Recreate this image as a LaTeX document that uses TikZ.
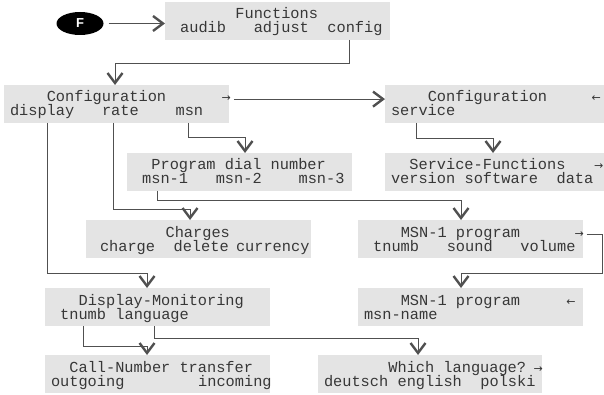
\documentclass[tikz,border=0pt]{standalone}
\usepackage{fontspec}
\usetikzlibrary{arrows.meta,shapes.geometric}
\newfontfamily\lcd{Liberation Mono}
\newfontfamily\symf{DejaVu Sans}
\setsansfont{Liberation Sans}
\definecolor{boxgray}{RGB}{228,228,228}
\definecolor{ink}{RGB}{55,55,55}
\definecolor{wirec}{RGB}{80,80,80}
\begin{document}
\begin{tikzpicture}[x=1pt,y=-1pt,
  lcdbox/.style={fill=boxgray, draw=none, anchor=north west, minimum width=225pt, minimum height=38pt, inner sep=0pt, outer sep=0pt},
  w/.style={anchor=base west, inner sep=0pt, outer sep=0pt, text=ink, font=\lcd\fontsize{15.3}{17}\selectfont},
  sym/.style={anchor=base west, inner sep=0pt, outer sep=0pt, text=ink, font=\symf\fontsize{11}{12}\selectfont},
  wire/.style={draw=wirec, line width=0.9pt},
  arr/.style={wire, -{Straight Barb[length=10pt,width=15pt,line width=2.4pt]}},
]
\useasboundingbox (0,0) rectangle (604,395);

% boxes
\node[lcdbox] (fb) at (165,2) {};
\node[lcdbox] (cfg) at (4,85) {};
\node[lcdbox, minimum width=219pt] (srv) at (385,85) {};
\node[lcdbox, minimum width=219pt] (sf) at (385,153) {};
\node[lcdbox] (pd) at (127,153) {};
\node[lcdbox] (ch) at (86,220) {};
\node[lcdbox] (mp1) at (358,220) {};
\node[lcdbox] (dm) at (45,288) {};
\node[lcdbox] (mp2) at (358,288) {};
\node[lcdbox] (cn) at (45,355) {};
\node[lcdbox, minimum width=224pt] (wl) at (318,355) {};

% F key
\node[ellipse, fill=black, minimum width=47pt, minimum height=23pt, inner sep=0pt, text=white, font=\sffamily\bfseries\fontsize{13}{13}\selectfont] (F) at (80,23.5) {F};

% Functions
\node[w] (fbt) at (235.4,19) {Functions};
\node[w] (audib) at (180.2,33) {audib};
\node[w] (adjust) at (253.8,33) {adjust};
\node[w] (config) at (327.4,33) {config};

% Configuration
\node[w] (cfgt) at (46.8,102) {Configuration};
\node[sym] (cfgarr) at (221.6,102) {→};
\node[w] (display) at (10,116) {display};
\node[w] (rate) at (102,116) {rate};
\node[w] (msn) at (175.6,116) {msn};

% Configuration (service)
\node[w] (srvt) at (427.8,102) {Configuration};
\node[sym] (srvarr) at (591.5,102) {←};
\node[w] (service) at (391,116) {service};

% Service-Functions
\node[w] (sft) at (409.4,170) {Service-Functions};
\node[sym] (sfarr) at (594,170) {→};
\node[w] (version) at (391,184) {version};
\node[w] (software) at (464.6,184) {software};
\node[w] (data) at (556.6,184) {data};

% Program dial number
\node[w] (pdt) at (151.4,170) {Program dial number};
\node[w] (msnone) at (142.2,184) {msn-1};
\node[w] (msntwo) at (215.8,184) {msn-2};
\node[w] (msnthree) at (298.6,184) {msn-3};

% Charges
\node[w] (cht) at (165.6,237) {Charges};
\node[w] (charge) at (100,251) {charge};
\node[w] (delete) at (173.6,251) {delete};
\node[w] (currency) at (236,251) {currency};

% MSN-1 program
\node[w] (mpt) at (400.8,237) {MSN-1 program};
\node[sym] (mparr) at (574.5,237) {→};
\node[w] (tnumbm) at (373.2,251) {tnumb};
\node[w] (sound) at (446.8,251) {sound};
\node[w] (volume) at (520.4,251) {volume};

% Display-Monitoring
\node[w] (dmt) at (78.6,305) {Display-Monitoring};
\node[w] (dmtnumb) at (60.2,319) {tnumb};
\node[w] (language) at (115.4,319) {language};

% MSN-1 program (name)
\node[w] (mpt2) at (400.8,305) {MSN-1 program};
\node[sym] (mparr2) at (566.4,305) {←};
\node[w] (msnname) at (364,319) {msn-name};

% Call-Number transfer
\node[w] (cnt) at (69.4,372) {Call-Number transfer};
\node[w] (outgoing) at (51,386) {outgoing};
\node[w] (incoming) at (198.2,386) {incoming};

% Which language
\node[w] (wlt) at (388.4,372) {Which language?};
\node[sym] (wlarr) at (533.5,372) {→};
\node[w] (deutsch) at (324,386) {deutsch};
\node[w] (english) at (397.6,386) {english};
\node[w] (polski) at (480.4,386) {polski};

% connectors
\draw[arr] ([xshift=5pt]F.east) -- (F.east -| fb.west);

\coordinate (sconfig) at ([xshift=21.6pt]config.base west);
\draw[arr] (sconfig |- fb.south) -- ++(0,23) -| ([xshift=111pt]cfg.north west);

\draw[arr] ([xshift=3pt]cfgarr.east) -- (cfgarr.east -| srv.west);

\coordinate (sservice) at ([xshift=25pt]service.base west);
\draw[arr] (sservice |- srv.south) -- ++(0,15) -| ([xshift=108pt]sf.north west);

\coordinate (smsn) at ([xshift=12.4pt]msn.base west);
\draw[arr] (smsn |- cfg.south) -- ++(0,14) -| ([xshift=118pt]pd.north west);

\coordinate (smsnone) at ([xshift=14.8pt]msnone.base west);
\draw[arr] (smsnone |- pd.south) -- ++(0,9) -| ([xshift=103pt]mp1.north west);

\coordinate (srate) at ([xshift=11pt]rate.base west);
\draw[arr] (srate |- cfg.south) -- ++(0,86) -| ([xshift=104pt]ch.north west);

\coordinate (sdisp) at ([xshift=37pt]display.base west);
\draw[arr] (sdisp |- cfg.south) -- ++(0,150) -| ([xshift=102pt]dm.north west);

\coordinate (lr1) at ([xshift=19pt]mp1.east);
\coordinate (lr2) at ([yshift=-15pt]mp1.south);
\draw[arr] ([xshift=3pt]mparr.east) -- (mparr.east -| lr1) -- (lr1 |- lr2) -| ([xshift=103pt]mp2.north west);

\coordinate (stn) at ([xshift=23pt]dmtnumb.base west);
\draw[arr] (stn |- dm.south) -- ++(0,20) -| ([xshift=102pt]cn.north west);

\coordinate (slang) at ([xshift=39pt]language.base west);
\draw[arr] (slang |- dm.south) -- ++(0,12) -| ([xshift=100pt]wl.north west);
\end{tikzpicture}
\end{document}
